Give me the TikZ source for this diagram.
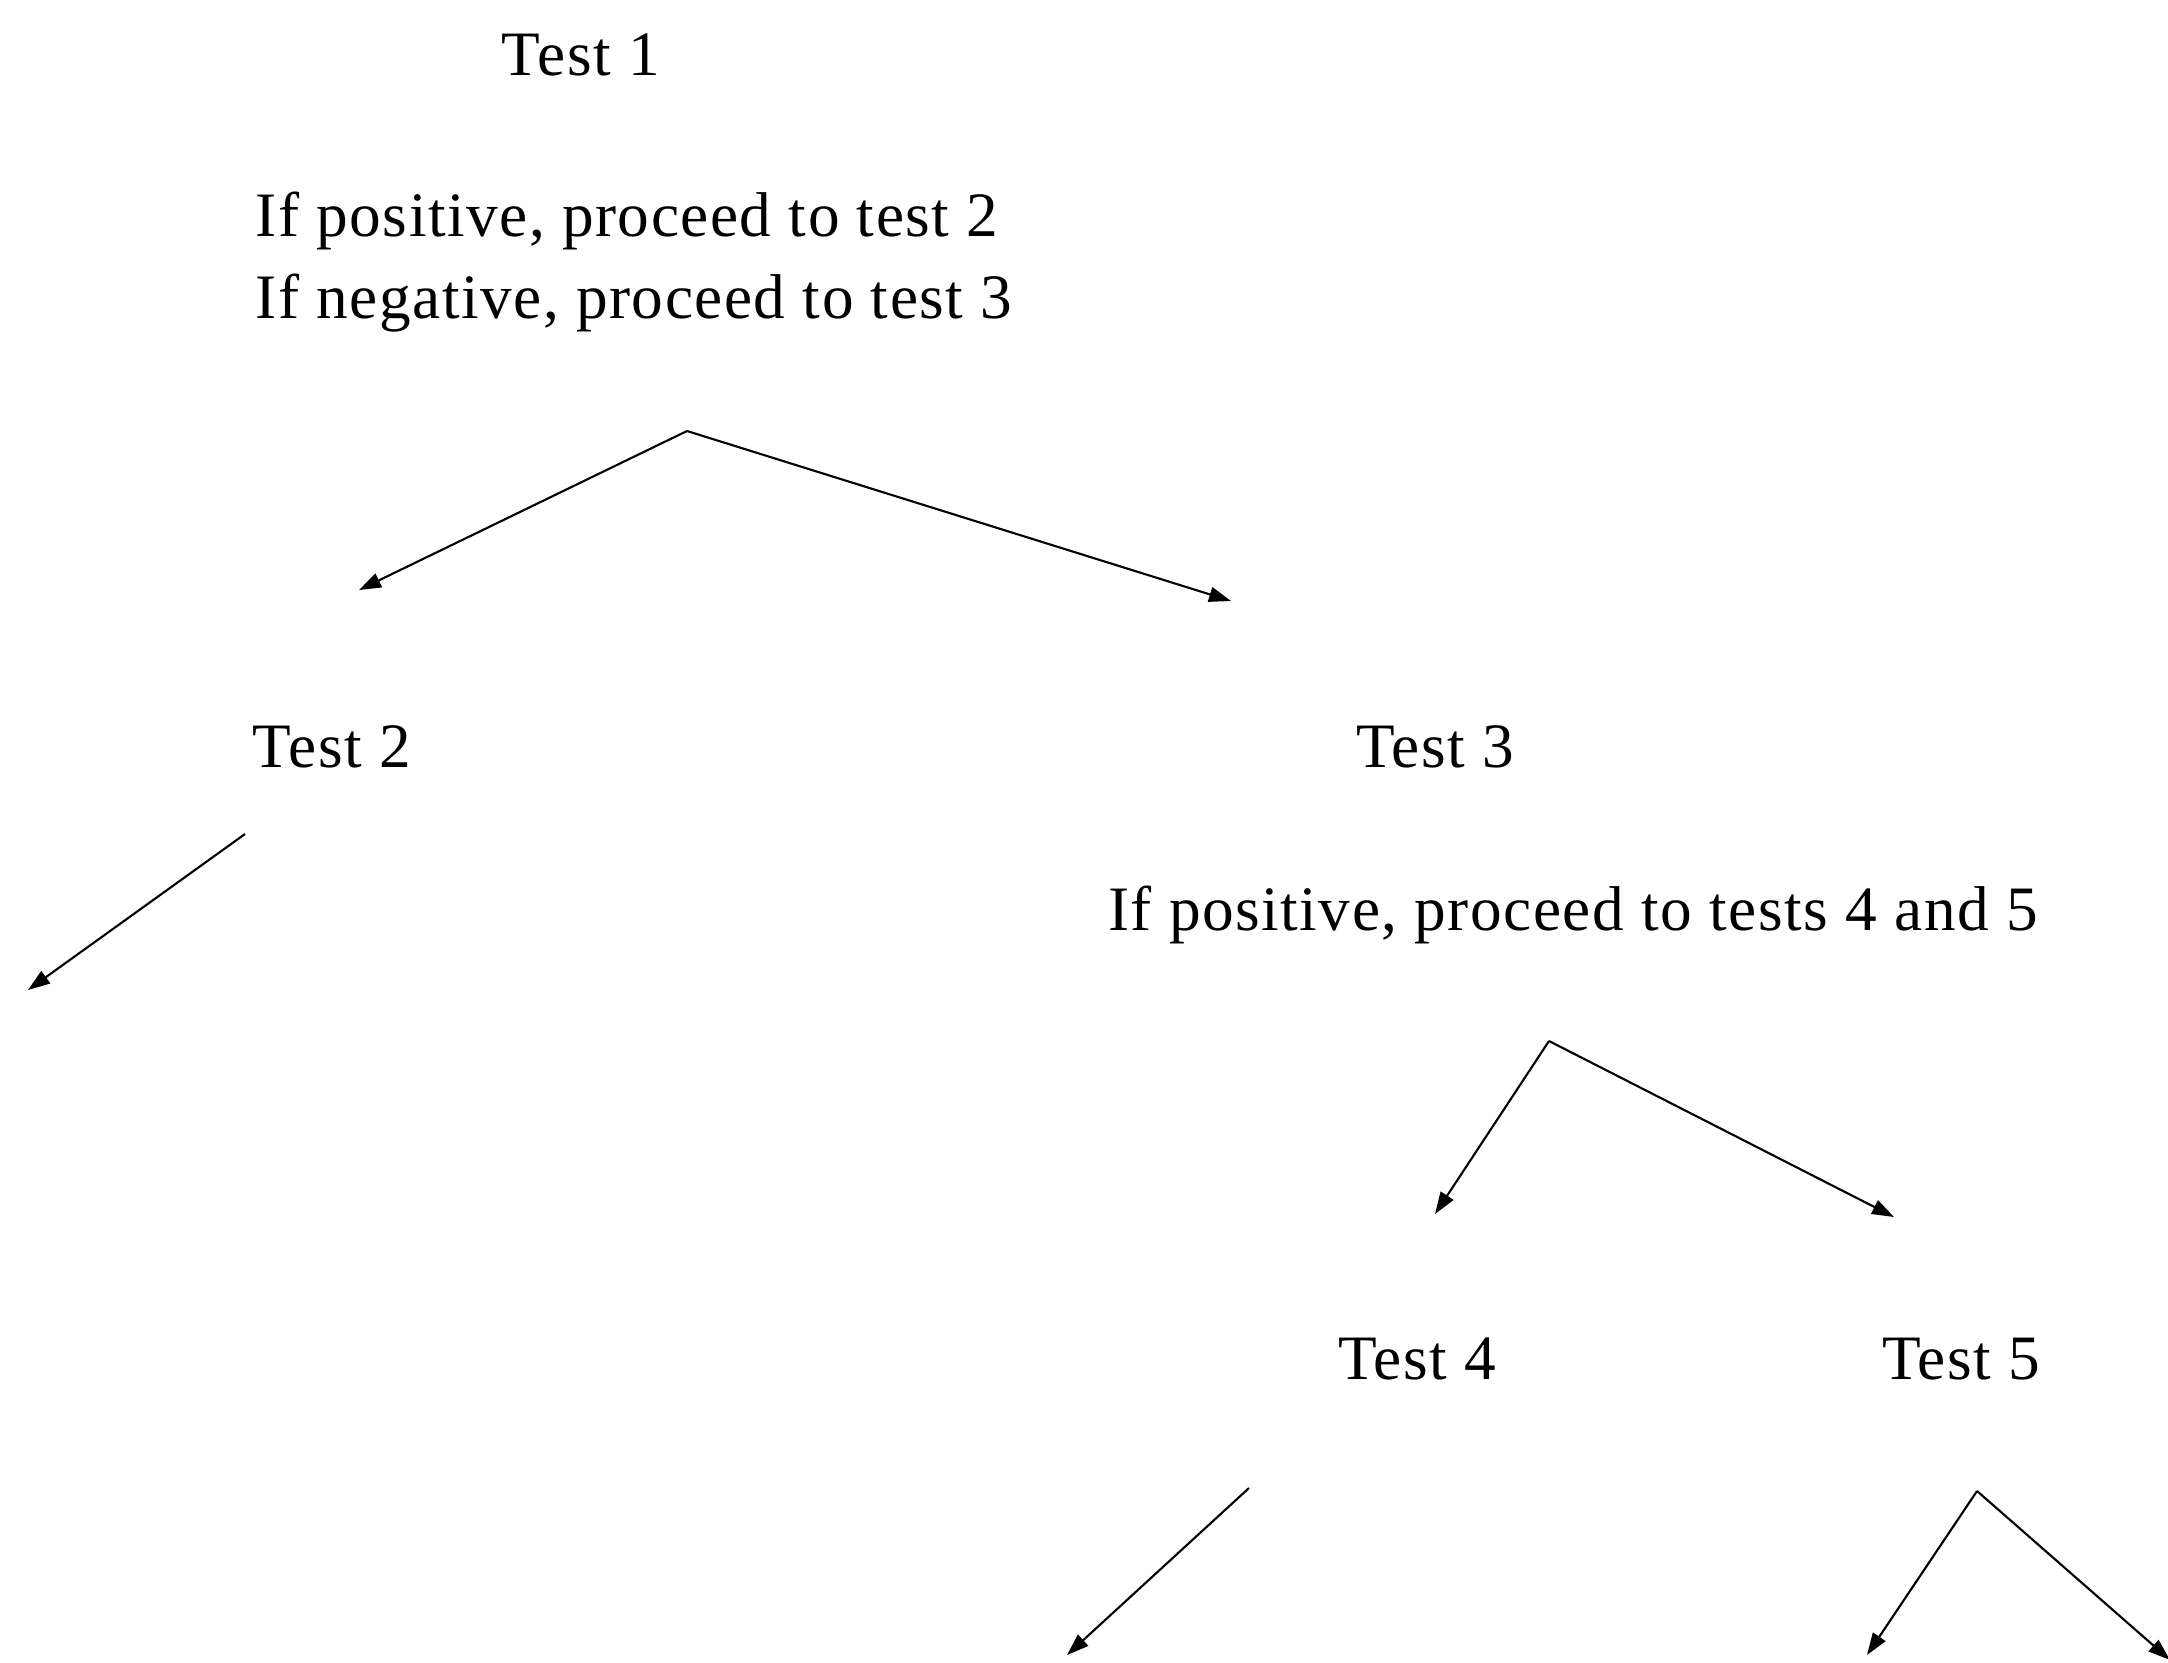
\documentclass[tikz,border=0pt]{standalone}
\usepackage{fontspec}
\setmainfont[LetterSpace=2.4]{Liberation Serif}
\usetikzlibrary{arrows.meta,positioning}

\begin{document}
\begin{tikzpicture}[
  >={Triangle[length=2.2mm,width=1.5mm]},
  lbl/.style={font=\fontsize{18}{23.5}\selectfont,inner sep=0pt},
  rule/.style={lbl,align=left},
  branch/.style={line width=0.6pt,->}
]
  \useasboundingbox (0,0) rectangle (21.68,-16.62);

  % tests and their rules
  \node[lbl] (t1) at (5.81,-0.55) {Test 1};
  \node[rule] (r1) at (6.34,-2.62) {If positive, proceed to test 2\\If negative, proceed to test 3};
  \node[lbl] (t2) at (3.32,-7.47) {Test 2};
  \node[lbl] (t3) at (14.35,-7.47) {Test 3};
  \node[rule] (r3) at (15.73,-9.15) {If positive, proceed to tests 4 and 5};
  \node[lbl] (t4) at (14.17,-13.59) {Test 4};
  \node[lbl] (t5) at (19.61,-13.59) {Test 5};

  % branch points
  \coordinate (a1) at (6.87,-4.31);
  \coordinate (a1l) at (3.59,-5.90);
  \coordinate (a1r) at (12.31,-6.01);
  \coordinate (s2) at (2.45,-8.34);
  \coordinate (e2) at (0.28,-9.90);
  \coordinate (a3) at (15.49,-10.41);
  \coordinate (a3l) at (14.35,-12.14);
  \coordinate (a3r) at (18.94,-12.17);
  \coordinate (s4) at (12.49,-14.88);
  \coordinate (e4) at (10.67,-16.55);
  \coordinate (a5) at (19.77,-14.91);
  \coordinate (a5l) at (18.67,-16.55);
  \coordinate (a5r) at (21.70,-16.60);

  \draw[branch] (a1) -- (a1l);
  \draw[branch] (a1) -- (a1r);
  \draw[branch] (s2) -- (e2);
  \draw[branch] (a3) -- (a3l);
  \draw[branch] (a3) -- (a3r);
  \draw[branch] (s4) -- (e4);
  \draw[branch] (a5) -- (a5l);
  \draw[branch] (a5) -- (a5r);
\end{tikzpicture}
\end{document}
